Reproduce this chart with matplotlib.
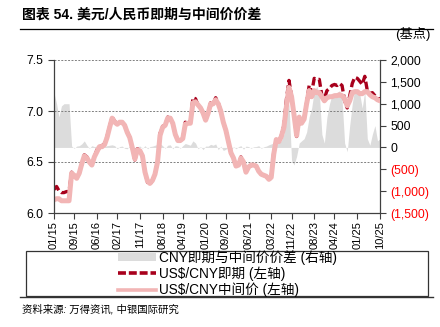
import matplotlib
matplotlib.use('Agg')
import matplotlib.pyplot as plt
import pandas as pd
from matplotlib.lines import Line2D
from matplotlib.patches import Patch, Rectangle
from matplotlib.ticker import FuncFormatter

plt.rcParams['font.family'] = ['Liberation Sans', 'Noto Sans CJK SC']

# ---------------- data (monthly, Jan 2015 - Oct 2025) ----------------
start_month = '2015-01-01'
spot = [
    6.23, 6.26, 6.22, 6.20, 6.20, 6.21, 6.21, 6.40, 6.36, 6.34, 6.39, 6.48,
    6.57, 6.55, 6.50, 6.47, 6.55, 6.62, 6.65, 6.66, 6.68, 6.75, 6.85, 6.94,
    6.90, 6.87, 6.89, 6.89, 6.86, 6.80, 6.74, 6.64, 6.52, 6.63, 6.61, 6.56,
    6.40, 6.30, 6.28, 6.32, 6.38, 6.50, 6.78, 6.85, 6.86, 6.94, 6.93, 6.88,
    6.77, 6.71, 6.71, 6.73, 6.89, 6.88, 6.88, 7.13, 7.12, 7.06, 7.03, 6.99,
    6.91, 6.98, 7.08, 7.07, 7.13, 7.08, 7.00, 6.89, 6.81, 6.70, 6.59, 6.53,
    6.46, 6.47, 6.55, 6.50, 6.40, 6.45, 6.47, 6.47, 6.46, 6.41, 6.38, 6.37,
    6.36, 6.32, 6.35, 6.60, 6.72, 6.70, 6.76, 6.86, 7.12, 7.30, 7.14, 6.96,
    6.75, 6.95, 6.88, 6.93, 7.08, 7.25, 7.18, 7.32, 7.31, 7.31, 7.15, 7.12,
    7.20, 7.22, 7.25, 7.26, 7.25, 7.27, 7.25, 7.10, 7.03, 7.15, 7.27, 7.33,
    7.32, 7.29, 7.26, 7.34, 7.20, 7.17, 7.18, 7.15, 7.12, 7.12,
]
mid = [
    6.13, 6.14, 6.14, 6.12, 6.12, 6.12, 6.12, 6.39, 6.37, 6.34, 6.39, 6.48,
    6.56, 6.54, 6.50, 6.47, 6.55, 6.60, 6.65, 6.65, 6.67, 6.74, 6.84, 6.93,
    6.89, 6.87, 6.89, 6.89, 6.86, 6.79, 6.74, 6.64, 6.53, 6.62, 6.61, 6.56,
    6.40, 6.31, 6.29, 6.32, 6.38, 6.50, 6.76, 6.84, 6.86, 6.93, 6.93, 6.88,
    6.77, 6.71, 6.71, 6.73, 6.87, 6.88, 6.88, 7.08, 7.09, 7.06, 7.03, 6.98,
    6.91, 6.98, 7.07, 7.07, 7.11, 7.07, 7.00, 6.89, 6.81, 6.70, 6.59, 6.54,
    6.46, 6.47, 6.54, 6.50, 6.40, 6.45, 6.47, 6.47, 6.46, 6.41, 6.38, 6.37,
    6.36, 6.33, 6.35, 6.58, 6.72, 6.70, 6.75, 6.84, 7.05, 7.23, 7.14, 6.96,
    6.76, 6.94, 6.88, 6.92, 7.07, 7.20, 7.14, 7.20, 7.18, 7.18, 7.14, 7.10,
    7.13, 7.14, 7.14, 7.15, 7.15, 7.16, 7.15, 7.12, 7.05, 7.10, 7.18, 7.19,
    7.19, 7.17, 7.17, 7.19, 7.19, 7.16, 7.14, 7.13, 7.11, 7.10,
]
spread = [
    1250, 1000, 700, 950, 1000, 1000, 1000, 30, -20, 30, 40, 80,
    150, 50, -20, 40, 20, 30, 40, -20, 20, 40, 50, 60,
    40, -30, 20, 30, -20, -30, 40, 20, -40, 20, 30, -20,
    40, -30, 20, 30, 50, 70, 90, 40, -20, 50, 60, -30,
    40, 30, -20, 40, 90, 70, 50, 150, 100, -30, 20, -50,
    30, 30, 70, 50, 80, -50, 30, -70, -40, 20, -80, 20,
    -30, 20, 40, -40, 30, 20, -20, 15, 20, 40, -20, 15,
    30, 60, 80, 100, 50, 120, 150, 300, 800, 1000, -300, -400,
    -200, 100, 150, 200, 350, 700, 900, 1300, 1400, 1250, 300, 100,
    700, 1000, 1200, 1250, 1250, 1300, 1100, 100, -100, 500, 1000, 1350,
    1300, 1200, 900, 1300, 200, 50, 300, 500, 150, 200,
]
tick_dates = ['2015-01-01', '2015-09-01', '2016-06-01', '2017-02-01', '2017-11-01',
              '2018-08-01', '2019-04-01', '2020-01-01', '2020-09-01', '2021-06-01',
              '2022-03-01', '2022-11-01', '2023-08-01', '2024-04-01', '2025-01-01',
              '2025-10-01']
tick_labels = ['01/15', '09/15', '06/16', '02/17', '11/17', '08/18', '04/19', '01/20',
               '09/20', '06/21', '03/22', '11/22', '08/23', '04/24', '01/25', '10/25']
left_ticks = [6.0, 6.5, 7.0, 7.5]
right_ticks = [-1500, -1000, -500, 0, 500, 1000, 1500, 2000]

title = '图表 54. 美元/人民币即期与中间价价差'
source = '资料来源: 万得资讯, 中银国际研究'
unit = '(基点)'
lab_spread = 'CNY即期与中间价价差 (右轴)'
lab_spot = 'US$/CNY即期 (左轴)'
lab_mid = 'US$/CNY中间价 (左轴)'

dates = pd.date_range(start_month, periods=len(spot), freq='MS')

# ---------------- figure ----------------
W, H = 440, 327
fig = plt.figure(figsize=(W / 100, H / 100), dpi=100)
ax = fig.add_axes([54 / W, 1 - 213 / H, (380 - 54) / W, (213 - 60) / H])
ax2 = ax.twinx()

spine_c = '#404040'
gray_c = '#dcdcdc'
red_c = '#a8001c'
pink_c = '#f2b5b5'
ax2.fill_between(dates, 0, spread, color=gray_c, lw=0)
ax2.set_ylim(-1500, 2000)
ax2.set_yticks(right_ticks)


def rfmt(v, pos):
    if v < 0:
        return '({:,.0f})'.format(-v)
    return '{:,.0f}'.format(v)


ax2.yaxis.set_major_formatter(FuncFormatter(rfmt))

ax.set_zorder(ax2.get_zorder() + 1)
ax.patch.set_visible(False)
ax.plot(dates, spot, color=red_c, lw=2.4, ls=(0, (2.5, 1.0)))
ax.plot(dates, mid, color=pink_c, lw=3.6, solid_capstyle='round')
ax.set_ylim(6.0, 7.5)
ax.set_yticks(left_ticks)
ax.set_yticklabels(['{:.1f}'.format(v) for v in left_ticks])
ax.set_xlim(dates[0], dates[-1])
ax.set_xticks(pd.to_datetime(tick_dates))
ax.set_xticklabels(tick_labels, rotation=90)
for yv in left_ticks[1:]:
    ax.axhline(yv, color='#808080', lw=0.7, ls=(0, (2, 1.5)), zorder=1)

for a in (ax, ax2):
    a.spines['top'].set_visible(False)
    for s in ('left', 'right', 'bottom'):
        a.spines[s].set_color(spine_c)
        a.spines[s].set_linewidth(0.9)
    a.tick_params(colors=spine_c, labelcolor='black', length=4, width=0.8, labelsize=8.8)
ax.spines['right'].set_visible(False)
ax2.spines['left'].set_visible(False)
ax2.spines['bottom'].set_visible(False)
ax.tick_params(axis='x', labelsize=8, pad=2)
for t, v in zip(ax2.get_yticklabels(), right_ticks):
    t.set_color('#ff0000' if v < 0 else 'black')

# ---------------- texts and frame ----------------
fig.text(22 / W, 1 - 15 / H, title, fontsize=10, fontweight='bold', va='center', ha='left')
fig.add_artist(Line2D([20 / W, 433 / W], [1 - 28.5 / H] * 2, color='black', lw=0.9))
fig.add_artist(Line2D([20 / W, 433 / W], [1 - 297 / H] * 2, color='#333333', lw=1.0))
fig.text(430 / W, 1 - 34 / H, unit, fontsize=9.5, va='center', ha='right')
fig.text(22 / W, 1 - 309 / H, source, fontsize=7.5, style='italic', va='center', ha='left')

fig.add_artist(Rectangle((26 / W, 1 - 295.5 / H), (428 - 26) / W, (295.5 - 250.5) / H,
                         transform=fig.transFigure, fill=False, ec='#333333', lw=0.9))
handles = [Patch(facecolor=gray_c, edgecolor='none'),
           Line2D([], [], color=red_c, lw=2.6, ls=(0, (2.2, 0.8))),
           Line2D([], [], color=pink_c, lw=2.6)]
fig.legend(handles, [lab_spread, lab_spot, lab_mid], loc='center left',
           bbox_to_anchor=(118 / W, 1 - 273.5 / H), frameon=False, fontsize=9.8,
           handlelength=2.8, handleheight=0.55, labelspacing=0.12, handletextpad=0.2,
           borderpad=0.0, borderaxespad=0.0)

fig.savefig('out.png', dpi=100)
